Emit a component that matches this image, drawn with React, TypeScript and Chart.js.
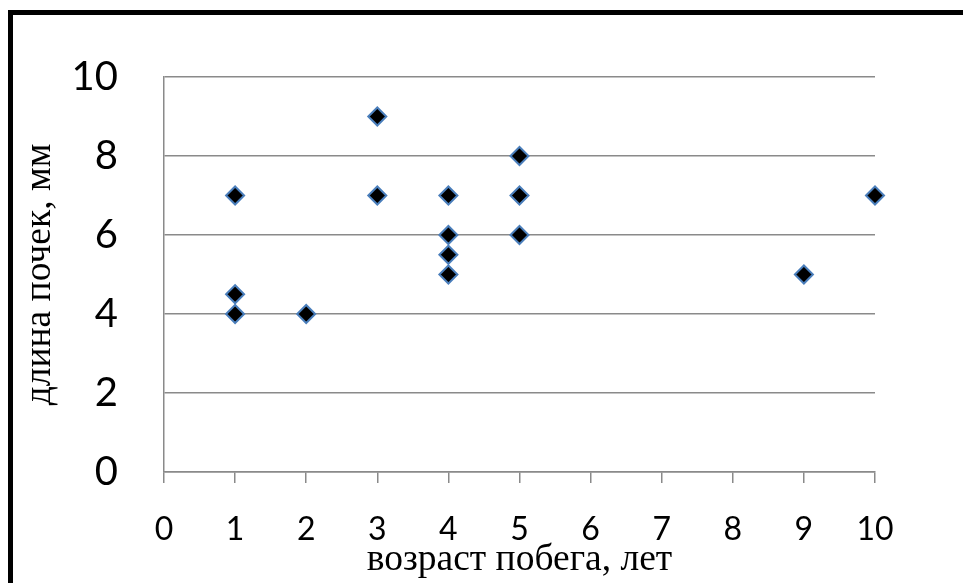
import React, { useEffect, useRef } from "react";
import { Chart, registerables } from "chart.js";

Chart.register(...registerables);

const xValues = [1, 1, 1, 2, 3, 3, 4, 4, 4, 4, 5, 5, 5, 9, 10];
const yValues = [7, 4.5, 4, 4, 9, 7, 7, 6, 5.5, 5, 8, 7, 6, 5, 7];
const xTitle = "возраст побега, лет";
const yTitle = "длина почек, мм";

export default function App() {
  const ref = useRef<HTMLCanvasElement | null>(null);
  useEffect(() => {
    if (!ref.current) return;
    const points = xValues.map((x, i) => ({ x, y: yValues[i] }));
    const chart = new Chart(ref.current, {
      type: "scatter",
      data: {
        datasets: [
          {
            data: points,
            pointStyle: "rectRot",
            pointRadius: 9,
            pointHoverRadius: 9,
            backgroundColor: "#000000",
            borderColor: "#4a7ebb",
            borderWidth: 2,
            clip: false,
          },
        ],
      },
      options: {
        animation: false,
        responsive: false,
        devicePixelRatio: 1,
        layout: { padding: { top: 77, right: 88, left: 0, bottom: 0 } },
        plugins: { legend: { display: false }, tooltip: { enabled: false } },
        scales: {
          x: {
            type: "linear",
            min: 0,
            max: 10,
            afterFit: (s: any) => {
              s.height = 111;
            },
            ticks: {
              stepSize: 1,
              color: "#000",
              padding: 27,
              font: { family: "Lato", size: 32 },
            },
            grid: {
              drawOnChartArea: false,
              drawTicks: true,
              tickLength: 11,
              color: "#8a8a8a",
              lineWidth: 1.5,
            },
            border: { display: true, color: "#8a8a8a", width: 1.5 },
            title: {
              display: true,
              text: xTitle,
              color: "#000",
              font: { family: "Liberation Serif", size: 37.5 },
              padding: { top: 0, bottom: 0 },
            },
          },
          y: {
            type: "linear",
            min: 0,
            max: 10,
            afterFit: (s: any) => {
              s.width = 164;
            },
            ticks: {
              stepSize: 2,
              color: "#000",
              padding: 46,
              font: { family: "Lato", size: 40 },
            },
            grid: {
              drawTicks: false,
              color: "#8a8a8a",
              lineWidth: 1.5,
            },
            border: { display: true, color: "#8a8a8a", width: 1.5 },
            title: {
              display: true,
              text: yTitle,
              color: "#000",
              font: { family: "Liberation Serif", size: 37.5 },
              padding: { top: 18, bottom: 0 },
            },
          },
        },
      },
    });
    return () => chart.destroy();
  }, []);
  return (
    <div
      style={{
        position: "fixed",
        left: 0,
        top: 0,
        width: 963,
        height: 583,
        overflow: "hidden",
        background: "#fff",
      }}
    >
      <canvas
        ref={ref}
        width={963}
        height={583}
        style={{ position: "absolute", left: 0, top: 0, width: 963, height: 583 }}
      />
      <div
        style={{
          position: "absolute",
          left: 8,
          top: 10,
          width: 1000,
          height: 700,
          border: "5px solid #000",
          boxSizing: "border-box",
          pointerEvents: "none",
        }}
      />
    </div>
  );
}
